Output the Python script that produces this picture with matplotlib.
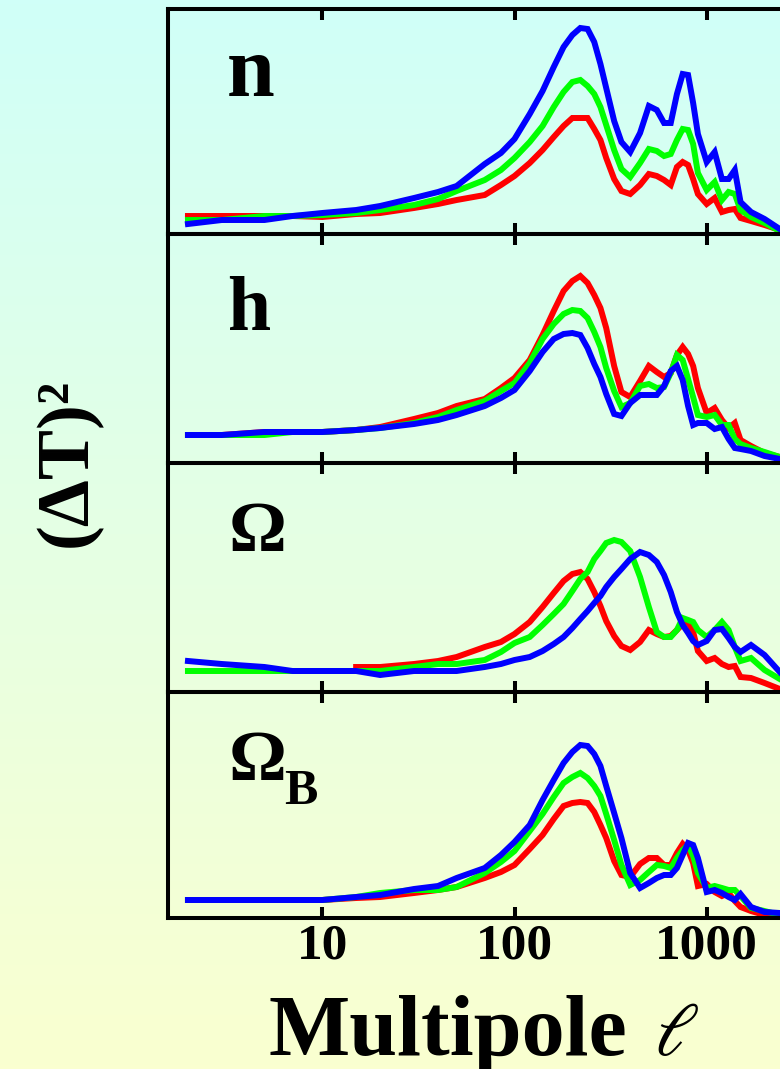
import numpy as np
import matplotlib
matplotlib.use("Agg")
import matplotlib.pyplot as plt
from matplotlib.ticker import NullLocator

W, H = 780, 1069
SERIF = ["Liberation Serif", "DejaVu Serif"]
plt.rcParams["mathtext.fontset"] = "dejavuserif"

# multipole grid shared by every curve
ell = [2, 3, 5, 7, 10, 15, 20, 30, 40, 50, 70, 85, 100, 120, 140, 160, 180,
       200, 220, 240, 260, 280, 300, 330, 360, 400, 450, 500, 550, 600, 650,
       700, 750, 800, 850, 900, 1000, 1100, 1200, 1300, 1400, 1500, 1700,
       2000, 2400]

# panel n
n_red = [18, 18, 18, 18, 17, 20, 21, 26, 30, 34, 39, 49, 58, 71, 84, 97, 108,
         116, 116, 116, 105, 94, 76, 55, 43, 40, 49, 60, 58, 54, 49, 67, 72,
         69, 55, 40, 30, 36, 22, 24, 25, 16, 13, 9, 4]
n_green = [14, 14, 18, 18, 19, 21, 24, 29, 35, 43, 54, 64, 76, 92, 108, 127,
           142, 152, 154, 148, 140, 127, 109, 84, 65, 57, 71, 85, 83, 78, 80,
           94, 105, 104, 90, 61, 44, 52, 34, 42, 40, 24, 17, 11, 3]
n_blue = [10, 14, 14, 18, 21, 24, 28, 36, 42, 48, 70, 81, 95, 120, 143, 167,
          187, 199, 206, 205, 192, 170, 146, 113, 92, 82, 101, 128, 124, 111,
          111, 140, 160, 159, 131, 100, 72, 82, 55, 55, 64, 32, 22, 15, 5]

# panel h
h_red = [28, 28, 31, 31, 31, 33, 36, 44, 50, 57, 64, 75, 85, 103, 128, 152,
         172, 182, 187, 180, 168, 155, 135, 97, 71, 66, 82, 97, 91, 86, 90,
         108, 116, 109, 97, 75, 50, 55, 43, 35, 40, 23, 17, 10, 6]
h_green = [28, 28, 28, 31, 31, 33, 35, 40, 46, 53, 62, 72, 80, 100, 124, 139,
           149, 153, 152, 145, 131, 116, 95, 72, 56, 60, 77, 79, 75, 76, 90,
           108, 103, 84, 66, 48, 46, 48, 38, 38, 24, 19, 15, 11, 6]
h_blue = [28, 28, 31, 31, 31, 33, 35, 39, 43, 48, 57, 65, 73, 92, 111, 124,
          129, 130, 128, 115, 99, 86, 69, 49, 47, 60, 68, 68, 68, 77, 92, 97,
          83, 57, 38, 40, 40, 34, 36, 24, 15, 14, 12, 7, 4]

# panel Omega
o_red = [np.nan, np.nan, np.nan, np.nan, np.nan, 25, 25, 28, 31, 35, 45, 50,
         58, 70, 85, 99, 111, 118, 120, 113, 100, 86, 71, 56, 46, 42, 50, 62,
         58, 55, 56, 62, 68, 70, 60, 41, 31, 34, 28, 25, 26, 15, 14, 9, 3]
o_green = [21, 21, 21, 21, 21, 21, 21, 25, 28, 28, 32, 40, 49, 55, 67, 78, 88,
           101, 113, 120, 133, 141, 149, 152, 150, 141, 115, 85, 60, 55, 55,
           62, 74, 72, 70, 62, 55, 62, 70, 62, 45, 31, 34, 22, 13]
o_blue = [31, 28, 25, 21, 21, 21, 17, 21, 21, 21, 25, 28, 32, 35, 41, 48, 55,
          64, 73, 81, 89, 96, 105, 115, 123, 133, 140, 137, 130, 117, 100, 80,
          67, 59, 51, 47, 51, 62, 63, 54, 45, 40, 47, 37, 20]

# panel Omega_B
b_red = [18, 18, 18, 18, 18, 20, 21, 25, 28, 31, 40, 46, 53, 69, 83, 99, 112,
         115, 116, 115, 106, 93, 80, 57, 43, 41, 54, 60, 60, 53, 53, 65, 74,
         68, 55, 32, 34, 26, 22, 25, 17, 11, 7, 3, 0]
b_green = [18, 18, 18, 18, 18, 21, 25, 28, 28, 31, 45, 56, 67, 87, 104, 121,
           135, 141, 145, 140, 132, 122, 104, 78, 53, 33, 38, 46, 53, 52, 50,
           60, 68, 73, 62, 45, 30, 32, 30, 28, 28, 22, 10, 7, 3]
b_blue = [18, 18, 18, 18, 18, 21, 23, 29, 32, 40, 50, 63, 76, 93, 118, 138,
          155, 166, 173, 172, 164, 152, 132, 105, 80, 45, 30, 35, 40, 43, 43,
          50, 63, 75, 73, 60, 26, 28, 25, 21, 18, 24, 11, 6, 5]

panels = [
    (n_red, n_green, n_blue),
    (h_red, h_green, h_blue),
    (o_red, o_green, o_blue),
    (b_red, b_green, b_blue),
]
edges = [9, 234, 463, 692, 918]   # panel borders, pixels from top
xticks = [10, 100, 1000]
xticklabels = ["10", "100", "1000"]


def fx(x):
    return x / W


def fy(y):
    return 1 - y / H


fig = plt.figure(figsize=(W / 100, H / 100), dpi=100)

# cyan-to-cream backdrop
bg = fig.add_axes([0, 0, 1, 1], zorder=-10)
top = np.array([208, 255, 248]) / 255
bot = np.array([250, 255, 208]) / 255
t = np.linspace(0, 1, 256)[:, None, None]
grad = top * (1 - t) + bot * t
bg.imshow(np.repeat(grad, 2, axis=1), aspect="auto", extent=[0, 1, 0, 1])
bg.axis("off")

left = 167.5
x_lo = 10 ** (1 - (322.3 - left) / 192.2)
x_hi = 10 ** (1 + (W - 322.3) / 192.2)

for i, (red, green, blue) in enumerate(panels):
    y0, y1 = edges[i], edges[i + 1]
    ax = fig.add_axes([fx(left), fy(y1), 1 - fx(left), (y1 - y0) / H])
    ax.set_facecolor("none")
    for vals, col in ((red, "#ff0000"), (green, "#00ff00"), (blue, "#0000ff")):
        ax.plot(ell, vals, color=col, lw=4.3, solid_joinstyle="miter")
    ax.set_xscale("log")
    ax.set_xlim(x_lo, x_hi)
    ax.set_ylim(0, y1 - y0)
    ax.set_yticks([])
    ax.set_xticks(xticks)
    ax.xaxis.set_minor_locator(NullLocator())
    ax.tick_params(axis="x", which="major", direction="in", top=True,
                   bottom=True, length=8, width=2.9, color="black", pad=4)
    for side in ("left", "top", "bottom"):
        ax.spines[side].set_linewidth(2.9)
        ax.spines[side].set_color("black")
    ax.spines["right"].set_visible(False)
    if i == len(panels) - 1:
        ax.set_xticklabels(xticklabels, family=SERIF, fontweight="bold",
                           fontsize=37)
    else:
        ax.set_xticklabels([])

# panel labels
lab = dict(family=SERIF, fontweight="bold", ha="left", va="baseline")
fig.text(fx(227), fy(96), "n", fontsize=62, **lab)
fig.text(fx(227), fy(330), "h", fontsize=56, **lab)
fig.text(fx(229), fy(551), "\u03a9", fontsize=52, **lab)
fig.text(fx(229), fy(780), "\u03a9", fontsize=52, **lab)
fig.text(fx(284), fy(804), "B", fontsize=36, **lab)

# axis titles
fig.text(fx(68), fy(462), "(\u0394T)\u00b2", rotation=90, family=SERIF,
         fontweight="bold", fontsize=54, ha="center", va="center")
fig.text(fx(268), fy(1055), "Multipole", family=SERIF,
         fontweight="bold", fontsize=62, ha="left", va="baseline")
fig.text(fx(654), fy(1055), r"$\ell$", fontsize=54, ha="left",
         va="baseline")

fig.savefig("out.png", dpi=100)
